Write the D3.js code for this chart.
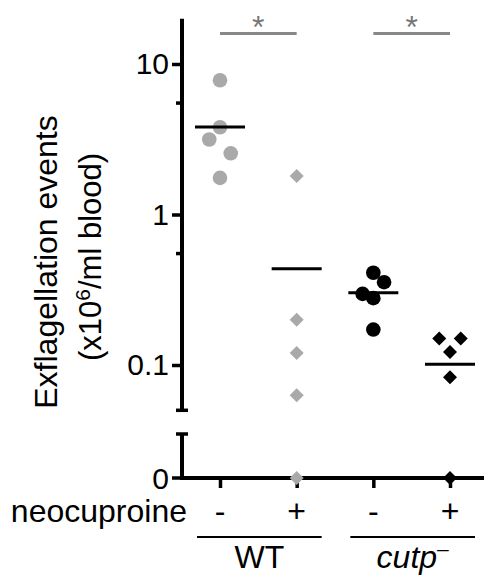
<!DOCTYPE html>
<html>
<head>
<meta charset="utf-8">
<script src="https://cdn.jsdelivr.net/npm/d3@7"></script>
<style>
  body { margin: 0; background: #fff; }
  text { font-family: "Liberation Sans", Arial, Helvetica, sans-serif; }
</style>
</head>
<body>
<div id="chart"></div>
<script>
// groups along the x axis
const conditions = ['WT-', 'WT+', 'cutp-', 'cutp+'];
const treatLabels = ['-', '+', '-', '+'];

// exflagellation events (x10^6/ml blood), 0 = none seen
const wtMinus   = [7.8, 3.8, 3.15, 2.55, 1.75];
const wtPlus    = [1.8, 0.2, 0.12, 0.063, 0];
const cutpMinus = [0.41, 0.355, 0.297, 0.278, 0.172];
const cutpPlus  = [0.15, 0.15, 0.122, 0.083, 0];

// horizontal spread of overlapping points, in steps of the category spacing
const wtMinusJit   = [0, 0, -0.14, 0.14, 0];
const wtPlusJit    = [0, 0, 0, 0, 0];
const cutpMinusJit = [0, 0.14, -0.14, 0, 0];
const cutpPlusJit  = [-0.14, 0.14, 0, 0, 0];

const majorTicks = [10, 1, 0.1];
const minorTicks = [5.5, 0.55];
const logDomain = [0.05, 20];

const series = [
  {key: 'WT-',   vals: wtMinus,   jit: wtMinusJit,   shape: 'circle',  color: '#a9a9a9'},
  {key: 'WT+',   vals: wtPlus,    jit: wtPlusJit,    shape: 'diamond', color: '#a9a9a9'},
  {key: 'cutp-', vals: cutpMinus, jit: cutpMinusJit, shape: 'circle',  color: '#000'},
  {key: 'cutp+', vals: cutpPlus,  jit: cutpPlusJit,  shape: 'diamond', color: '#000'}
];

const width = 484;
const height = 575;

const svg = d3.select('#chart')
  .append('svg')
  .attr('width', width)
  .attr('height', height);

const axisX = 182;
const zeroY = 478;

const x = d3.scalePoint()
  .domain(conditions)
  .range([220, 450]);
const step = x.step();

const y = d3.scaleLog()
  .domain(logDomain)
  .range([410.3, 18.7]);

const yPos = v => v === 0 ? zeroY : y(v);

// y axis, log part
const yAxis = d3.axisLeft(y)
  .tickValues(majorTicks)
  .tickFormat(d3.format('~g'))
  .tickSize(10)
  .tickPadding(3);

const gy = svg.append('g')
  .attr('transform', `translate(${axisX},0)`)
  .call(yAxis);
gy.select('.domain').remove();
gy.selectAll('.tick line').attr('stroke', '#000').attr('stroke-width', 3.5);
gy.selectAll('.tick text')
  .style('font-size', '30px')
  .attr('fill', '#000');

gy.selectAll('.minor')
  .data(minorTicks)
  .enter().append('line')
    .attr('x1', -6).attr('x2', 0)
    .attr('y1', d => y(d)).attr('y2', d => y(d))
    .attr('stroke', '#000').attr('stroke-width', 3.5);

gy.append('line')
  .attr('x1', 0).attr('x2', 0)
  .attr('y1', y.range()[1]).attr('y2', y.range()[0])
  .attr('stroke', '#000').attr('stroke-width', 4);
gy.append('line')
  .attr('x1', -6).attr('x2', 6)
  .attr('y1', y.range()[0]).attr('y2', y.range()[0])
  .attr('stroke', '#000').attr('stroke-width', 3.5);

// y axis, zero part
gy.append('line')
  .attr('x1', 0).attr('x2', 0)
  .attr('y1', 434).attr('y2', zeroY)
  .attr('stroke', '#000').attr('stroke-width', 4);
gy.append('line')
  .attr('x1', -6).attr('x2', 6)
  .attr('y1', 434).attr('y2', 434)
  .attr('stroke', '#000').attr('stroke-width', 3.5);
gy.append('line')
  .attr('x1', -10).attr('x2', 0)
  .attr('y1', zeroY).attr('y2', zeroY)
  .attr('stroke', '#000').attr('stroke-width', 3.5);
gy.append('text')
  .attr('x', -13).attr('y', zeroY)
  .attr('dy', '0.35em')
  .attr('text-anchor', 'end')
  .attr('fill', '#000')
  .style('font-size', '30px')
  .text('0');

// x axis
const xAxis = d3.axisBottom(x)
  .tickSize(10)
  .tickFormat('');
const gx = svg.append('g')
  .attr('transform', `translate(0,${zeroY})`)
  .call(xAxis);
gx.select('.domain').remove();
gx.selectAll('.tick line').attr('stroke', '#000').attr('stroke-width', 3.5);
svg.append('line')
  .attr('x1', axisX - 2).attr('x2', width)
  .attr('y1', zeroY).attr('y2', zeroY)
  .attr('stroke', '#000').attr('stroke-width', 4);

// axis title
svg.append('text')
  .attr('transform', 'translate(57,262) rotate(-90)')
  .attr('text-anchor', 'middle')
  .style('font-size', '32px')
  .text('Exflagellation events');
const t2 = svg.append('text')
  .attr('transform', 'translate(101,257) rotate(-90)')
  .attr('text-anchor', 'middle')
  .style('font-size', '31px');
t2.append('tspan').text('(x10');
t2.append('tspan').attr('dy', -11).style('font-size', '21px').text('6');
t2.append('tspan').attr('dy', 11).text('/ml blood)');

// points
const diamond = d3.symbol().type(d3.symbolDiamond2).size(125);

series.forEach(s => {
  const g = svg.append('g').attr('class', 'series');
  const pts = s.vals.map((v, i) => ({v, cx: x(s.key) + s.jit[i] * step}));
  if (s.shape === 'circle') {
    g.selectAll('circle')
      .data(pts)
      .enter().append('circle')
        .attr('cx', d => d.cx)
        .attr('cy', d => yPos(d.v))
        .attr('r', 7.3)
        .attr('fill', s.color);
  } else {
    g.selectAll('path')
      .data(pts)
      .enter().append('path')
        .attr('d', diamond)
        .attr('transform', d => `translate(${d.cx},${yPos(d.v)})`)
        .attr('fill', s.color);
  }
  // mean line
  const m = d3.mean(s.vals);
  g.append('line')
    .attr('x1', x(s.key) - 25).attr('x2', x(s.key) + 25)
    .attr('y1', y(m)).attr('y2', y(m))
    .attr('stroke', '#000').attr('stroke-width', 3);
});

// significance bars
[['WT-', 'WT+'], ['cutp-', 'cutp+']].forEach(p => {
  svg.append('line')
    .attr('x1', x(p[0])).attr('x2', x(p[1]))
    .attr('y1', 33.5).attr('y2', 33.5)
    .attr('stroke', '#888').attr('stroke-width', 3);
  svg.append('text')
    .attr('x', (x(p[0]) + x(p[1])) / 2)
    .attr('y', 38)
    .attr('text-anchor', 'middle')
    .attr('fill', '#777')
    .style('font-size', '32px')
    .text('*');
});

// treatment row
svg.append('text')
  .attr('x', 187).attr('y', 522)
  .attr('text-anchor', 'end')
  .style('font-size', '32px')
  .text('neocuproine');
svg.selectAll('.treat')
  .data(conditions)
  .enter().append('text')
    .attr('class', 'treat')
    .attr('x', d => x(d))
    .attr('y', 522)
    .attr('text-anchor', 'middle')
    .style('font-size', '32px')
    .text((d, i) => treatLabels[i]);

// strain groups
const groups = [
  {name: 'WT', from: 'WT-', to: 'WT+'},
  {name: 'cutp', from: 'cutp-', to: 'cutp+'}
];
groups.forEach(gp => {
  const x0 = x(gp.from) - 23, x1 = x(gp.to) + 25;
  svg.append('line')
    .attr('x1', x0).attr('x2', x1)
    .attr('y1', 537).attr('y2', 537)
    .attr('stroke', '#000').attr('stroke-width', 2);
  const t = svg.append('text')
    .attr('x', (x0 + x1) / 2)
    .attr('y', 568)
    .attr('text-anchor', 'middle')
    .style('font-size', '32px');
  if (gp.name === 'WT') {
    t.text('WT');
  } else {
    t.append('tspan').style('font-style', 'italic').text('cutp');
    t.append('tspan').attr('dy', -12).style('font-size', '21px').text('\u2013');
  }
});
</script>
</body>
</html>
